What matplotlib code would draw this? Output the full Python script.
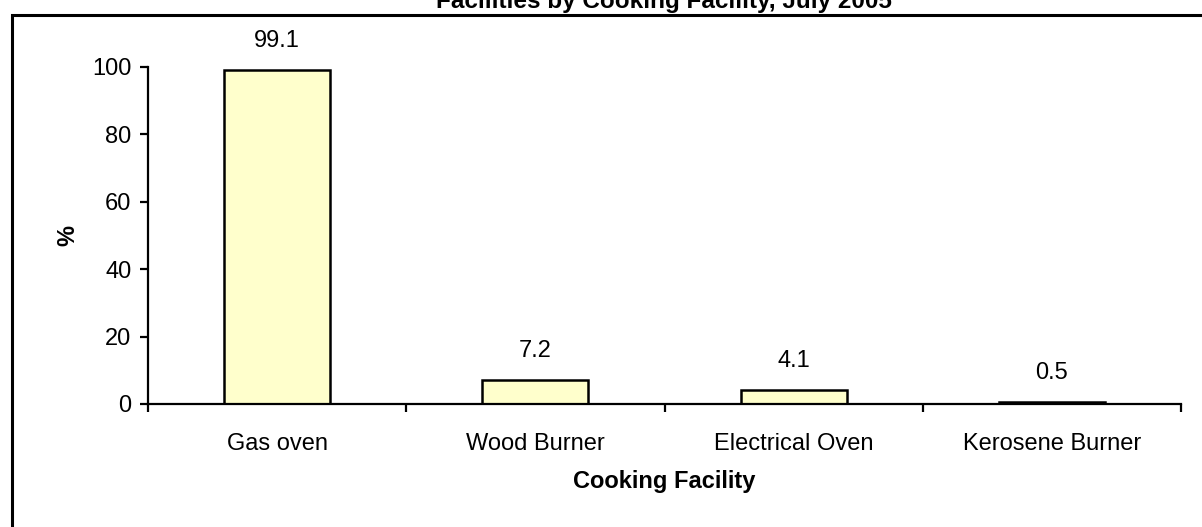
import matplotlib.pyplot as plt
from matplotlib.patches import Rectangle

plt.rcParams['font.family'] = ['Liberation Sans', 'DejaVu Sans']

facilities = ["Gas oven", "Wood Burner", "Electrical Oven", "Kerosene Burner"]
percent = [99.1, 7.2, 4.1, 0.5]
yticks = [0, 20, 40, 60, 80, 100]

fig = plt.figure(figsize=(12.02, 5.27), dpi=100)
ax = fig.add_axes([148 / 1202, 123 / 527, 1033 / 1202, 337 / 527])

x = list(range(len(facilities)))
bars = ax.bar(x, percent, width=0.41, color="#FFFFCC", edgecolor="black", linewidth=1.8)
for b, v in zip(bars, percent):
    ax.annotate(f"{v:.1f}", (b.get_x() + b.get_width() / 2, v), xytext=(0, 13),
                textcoords="offset points", ha="center", va="bottom", fontsize=17)

ax.set_xlim(-0.5, len(facilities) - 0.5)
ax.set_ylim(0, 100)
ax.set_yticks(yticks)
ax.set_xticks(x)
ax.set_xticklabels(facilities)
ax.set_xticks([i - 0.5 for i in range(len(facilities) + 1)], minor=True)
ax.tick_params(axis="x", which="major", length=0, pad=21, labelsize=17)
ax.tick_params(axis="x", which="minor", length=6, width=1.6, direction="out")
ax.tick_params(axis="y", length=6, width=1.6, labelsize=17, pad=6)

for s in ["top", "right"]:
    ax.spines[s].set_visible(False)
for s in ["left", "bottom"]:
    ax.spines[s].set_linewidth(1.6)

ax.set_xlabel("Cooking Facility", fontsize=17, fontweight="bold", labelpad=11)
ax.set_ylabel("%", fontsize=17, fontweight="bold", labelpad=9)

fig.text(664 / 1202, 519 / 527, "Facilities by Cooking Facility, July 2005",
         ha="center", va="baseline", fontsize=17.5, fontweight="bold")

fig.patches.append(Rectangle((12 / 1202, -0.05), 1.1, 0.05 + 512 / 527, transform=fig.transFigure,
                             fill=False, edgecolor="black", linewidth=2.2))

fig.savefig("out.png", dpi=100)
